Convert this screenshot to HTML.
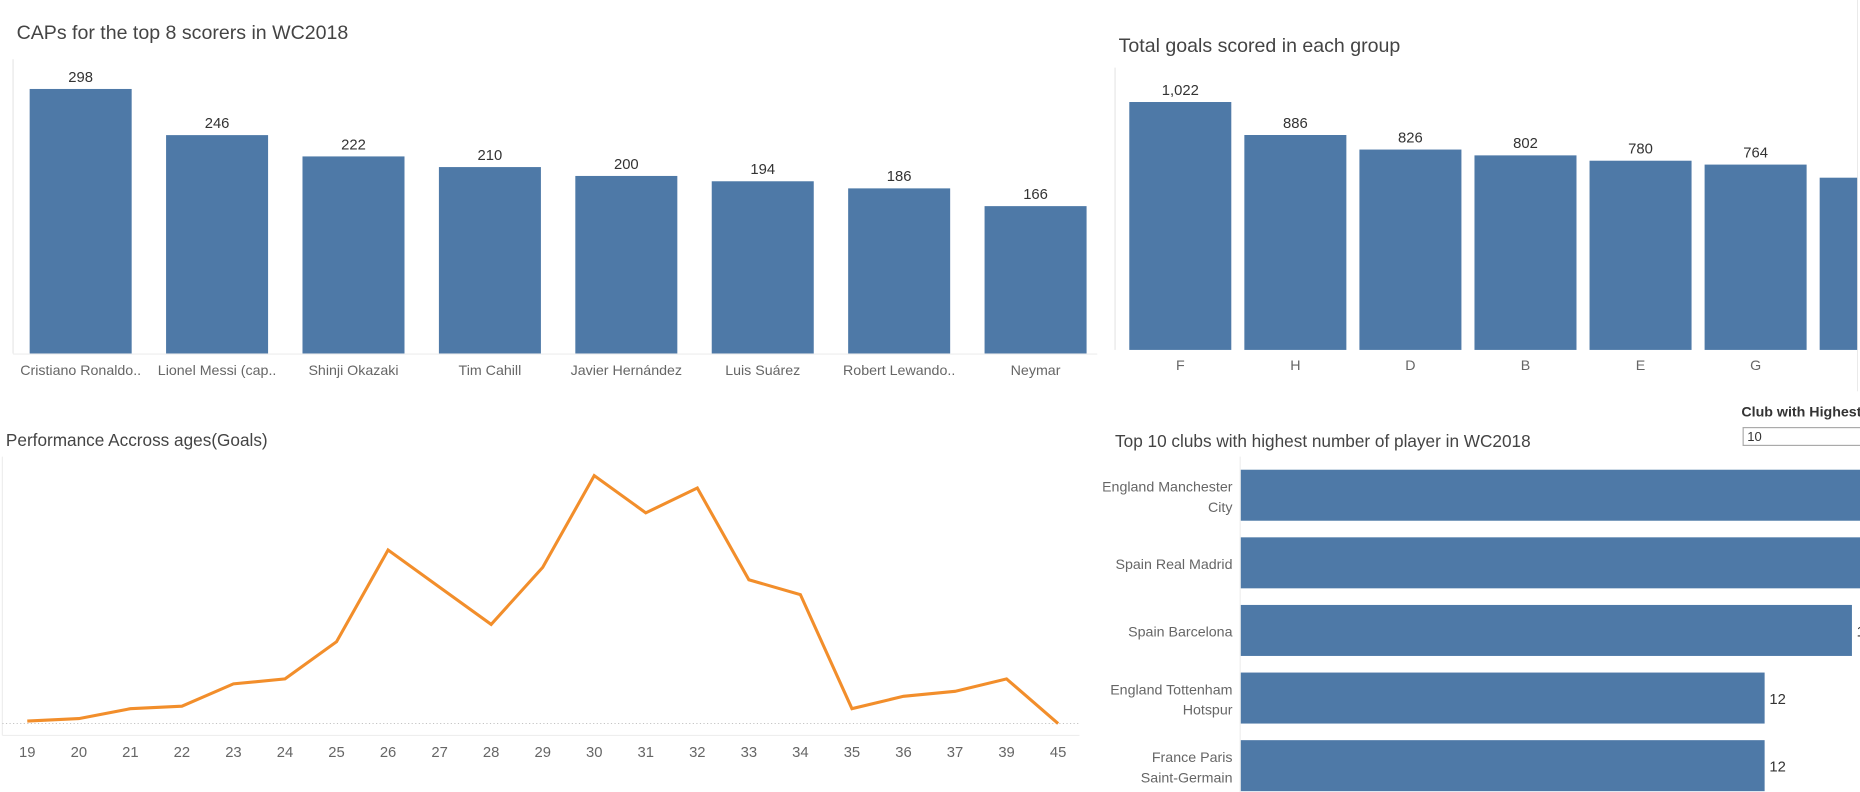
<!DOCTYPE html>
<html><head><meta charset="utf-8">
<style>
html,body{margin:0;padding:0;background:#fff;overflow:hidden}
svg{display:block;font-family:"Liberation Sans",sans-serif}
</style></head>
<body>
<svg id="dash" width="1860" height="792" viewBox="0 0 1568 667.7" preserveAspectRatio="none" xmlns="http://www.w3.org/2000/svg">
<defs>
<clipPath id="clipTR"><rect x="930" y="0" width="636" height="330"/></clipPath>
<clipPath id="clipBR"><rect x="930" y="330" width="638" height="338"/></clipPath>
</defs>
<text x="14" y="33" font-size="16.5" fill="#444">CAPs for the top 8 scorers in WC2018</text>
<text x="943" y="44" font-size="16.5" fill="#444">Total goals scored in each group</text>
<text x="5" y="376" font-size="14.5" fill="#444">Performance Accross ages(Goals)</text>
<text x="940" y="377" font-size="14.5" fill="#444">Top 10 clubs with highest number of player in WC2018</text>
<g clip-path="url(#clipBR)">
<text x="1468" y="351" font-size="12" font-weight="bold" fill="#333">Club with Highest</text>
<rect x="1469.5" y="360.5" width="110" height="15" fill="#fff" stroke="#aaa"/>
<text x="1473" y="372" font-size="11" fill="#333">10</text>
</g>
<g id="g1"></g>
<g id="g2" clip-path="url(#clipTR)"></g>
<g id="g3"></g>
<g id="g4" clip-path="url(#clipBR)"></g>
</svg>
<script>
const capsPlayers = ["Cristiano Ronaldo..","Lionel Messi (cap..","Shinji Okazaki","Tim Cahill","Javier Hernández","Luis Suárez","Robert Lewando..","Neymar"];
const capsValues = [298,246,222,210,200,194,186,166];
const groupNames = ["F","H","D","B","E","G","A"];
const groupGoals = [1022,886,826,802,780,764,710];
const ageLabels = ["19","20","21","22","23","24","25","26","27","28","29","30","31","32","33","34","35","36","37","39","45"];
const ageGoals = [1,2,6,7,16,18,33,70,55,40,63,100,85,95,58,52,6,11,13,18,0];
const clubNames = [["England Manchester","City"],["Spain Real Madrid"],["Spain Barcelona"],["England Tottenham","Hotspur"],["France Paris","Saint-Germain"]];
const clubPlayers = [16,16,14,12,12];

const NS="http://www.w3.org/2000/svg";
function mk(parent,tag,attrs,text){const e=document.createElementNS(NS,tag);for(const k in attrs)e.setAttribute(k,attrs[k]);if(text!==undefined)e.textContent=text;parent.appendChild(e);return e;}
const BAR="#4e79a7";

// Chart 1
(function(){
  const g=document.getElementById('g1');
  const base=298, kY=223/298, x0=25, pitch=115, w=86;
  const ax=mk(g,'line',{x1:11,y1:50,x2:11,y2:base,stroke:'#e6e6e6'});
  
  
  const bl=mk(g,'line',{x1:11,y1:base+0.5,x2:925,y2:base+0.5,stroke:'#eee'});
  
  
  capsValues.forEach((v,i)=>{
    const x=x0+i*pitch,h=v*kY;
    const r=mk(g,'rect',{x:x,y:base-h,width:w,height:h,fill:BAR});
    
    
    const t=mk(g,'text',{x:x+w/2,y:base-h-6,'font-size':12.5,'text-anchor':'middle',fill:'#333'},String(v));
    
    
    const l=mk(g,'text',{x:x+w/2,y:316,'font-size':12,'text-anchor':'middle',fill:'#666'},capsPlayers[i]);
    
    
  });
})();

// Chart 2
(function(){
  const g=document.getElementById('g2');
  const base=295, kY=209/1022, x0=952, pitch=97, w=86;
  const ax=mk(g,'line',{x1:940,y1:57,x2:940,y2:base,stroke:'#e6e6e6'});
  
  
  groupGoals.forEach((v,i)=>{
    const x=x0+i*pitch,h=v*kY;
    const r=mk(g,'rect',{x:x,y:base-h,width:w,height:h,fill:BAR});
    
    
    const t=mk(g,'text',{x:x+w/2,y:base-h-6,'font-size':12.5,'text-anchor':'middle',fill:'#333'},v.toLocaleString('en-US'));
    
    
    const l=mk(g,'text',{x:x+w/2,y:312,'font-size':12,'text-anchor':'middle',fill:'#666'},groupNames[i]);
    
    
  });
  const rl=mk(g,'line',{x1:1566,y1:0,x2:1566,y2:330,stroke:'#ddd'});
  
  
})();

// Chart 3 line
(function(){
  const g=document.getElementById('g3');
  const base=610, kY=209/100, x0=23, dx=(892-23)/(ageLabels.length-1);
  const ax=mk(g,'line',{x1:2,y1:385,x2:2,y2:620,stroke:'#eee'});
  
  
  const zl=mk(g,'line',{x1:2,y1:base,x2:910,y2:base,stroke:'#bbb','stroke-dasharray':'1 2','stroke-width':0.8});
  
  
  const xl=mk(g,'line',{x1:2,y1:620,x2:910,y2:620,stroke:'#eee'});
  
  
  let d='';
  ageGoals.forEach((v,i)=>{d+=(i?'L':'M')+(x0+i*dx)+' '+(base-v*kY);});
  const p=mk(g,'path',{d:d,fill:'none',stroke:'#f28e2b','stroke-width':2.6,'stroke-linejoin':'miter'});
  
  
  ageLabels.forEach((a,i)=>{
    const t=mk(g,'text',{x:x0+i*dx,y:638,'font-size':12.5,'text-anchor':'middle',fill:'#666'},a);
    
    
  });
})();

// Chart 4 horizontal bars
(function(){
  const g=document.getElementById('g4');
  const x0=1046, kX=36.8, y0=396, pitch=57, h=43;
  const ax=mk(g,'line',{x1:x0-0.5,y1:385,x2:x0-0.5,y2:668,stroke:'#eee'});
  
  
  clubPlayers.forEach((v,i)=>{
    const y=y0+i*pitch,w=v*kX;
    const r=mk(g,'rect',{x:x0,y:y,width:w,height:h,fill:BAR});
    
    
    const t=mk(g,'text',{x:x0+w+4,y:y+h/2+5,'font-size':12.5,fill:'#333'},String(v));
    
    
    const lines=clubNames[i];
    lines.forEach((ln,j)=>{
      const yy=y+h/2+5+(lines.length===2?(j===0?-8:9):0);
      const l=mk(g,'text',{x:1039,y:yy,'font-size':12,'text-anchor':'end',fill:'#666'},ln);
      
      
    });
  });
})();
</script>
</body></html>
